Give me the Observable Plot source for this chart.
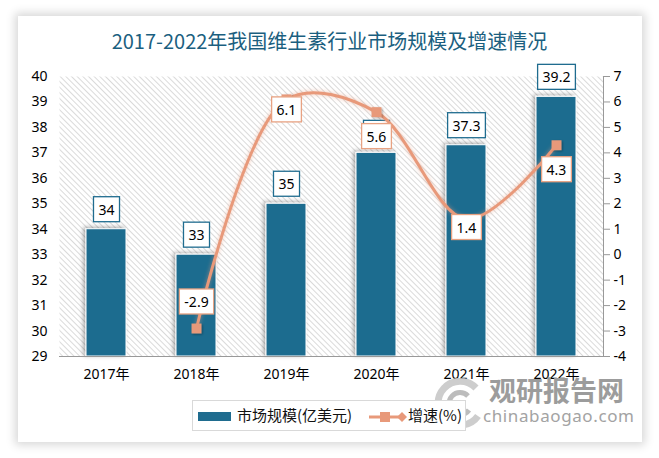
<!DOCTYPE html>
<html><head><meta charset="utf-8">
<script src="https://cdn.jsdelivr.net/npm/d3@7"></script>
<script src="https://cdn.jsdelivr.net/npm/@observablehq/plot@0.6"></script>
<style>
body{margin:0;background:#fff;width:659px;height:458px;overflow:hidden;position:relative;font-family:"Noto Sans","Noto Sans CJK SC",sans-serif;}
#card{position:absolute;left:18px;top:16px;width:624px;height:426px;background:#fff;box-shadow:0 0 9px 3px rgba(0,0,0,0.16);}
#title{position:absolute;left:0;width:659px;top:28px;text-align:center;font-size:20px;line-height:26px;color:#1b5f80;font-family:"Noto Sans CJK SC",sans-serif;}
#chart{position:absolute;left:0;top:0;}
#legend{position:absolute;left:192px;top:400px;width:274px;height:31px;border:1px solid #d9d9d9;box-sizing:border-box;background:#fff;font-size:15px;font-family:"Noto Sans CJK SC",sans-serif;color:#111;}
#legend .sw{position:absolute;left:5px;top:11px;width:33px;height:9px;background:#1f6c8f;}
#legend .t1{position:absolute;left:44px;top:4px;line-height:20px;}
#legend svg{position:absolute;left:175px;top:5px;}
#legend .t2{position:absolute;left:215px;top:4px;line-height:20px;}
#wm1{position:absolute;left:489px;top:373px;font-size:27px;font-weight:bold;color:#9c9c9c;font-family:"Noto Sans CJK SC",sans-serif;line-height:34px;}
#wm2{position:absolute;left:483px;top:405px;font-size:17px;color:#a3a3a3;letter-spacing:0.6px;font-family:"Noto Sans",sans-serif;line-height:22px;}
#logo{position:absolute;left:432px;top:378px;}
</style></head>
<body>
<div id="card"></div>
<div id="chart"></div>
<div id="title">2017-2022年我国维生素行业市场规模及增速情况</div>
<svg id="logo" width="56" height="52"><path d="M44 10 A22 22 0 1 0 46 38" fill="none" stroke="#c4c4c4" stroke-width="7" opacity="0.85"/><path d="M36 18 A11 11 0 1 0 37 32" fill="none" stroke="#b0b0b0" stroke-width="5" opacity="0.85"/></svg>
<div id="wm1">观研报告网</div>
<div id="wm2">chinabaogao.com</div>
<div id="legend"><div class="sw"></div><div class="t1">市场规模(亿美元)</div>
<svg width="40" height="20"><line x1="1" y1="11" x2="34" y2="11" stroke="#e8997a" stroke-width="3"/><rect x="12" y="6" width="10" height="10" fill="#e8997a"/><path d="M34 6 L39 11 L34 16 L29 11 Z" fill="#e8997a"/></svg>
<div class="t2">增速(%)</div></div>
<script>
const years = ["2017年","2018年","2019年","2020年","2021年","2022年"];
const marketSize = [34, 33, 35, 37, 37.3, 39.2];
const growthYears = ["2018年","2019年","2020年","2021年","2022年"];
const growth = [-2.9, 6.1, 5.6, 1.4, 4.3];
const leftTicks = [29,30,31,32,33,34,35,36,37,38,39,40];
const rightTicks = [-4,-3,-2,-1,0,1,2,3,4,5,6,7];

// layout constants (not data)
const SHIFT = 40 - 7; // right axis 7 aligns with left axis 40
const growthLabelDy = {"2018年": -26, "2019年": 11, "2020年": 25, "2021年": 9, "2022年": 25};
const BAR = "#1f6c8f", LINE = "#e8997a";

const sizeRows = years.map((y, i) => ({year: y, size: marketSize[i]}));
const growthRows = growthYears.map((y, i) => ({year: y, g: growth[i]}));

const chart = Plot.plot({
  width: 659, height: 458,
  marginLeft: 59, marginRight: 56, marginTop: 76, marginBottom: 102,
  x: {domain: years, paddingInner: 0.56, paddingOuter: 0.28, label: null},
  y: {domain: [29, 40], label: null},
  style: {fontFamily: "'Noto Sans','Noto Sans CJK SC',sans-serif", fontSize: "14px", color: "#000", background: "transparent", overflow: "visible"},
  marks: [
    Plot.frame({fill: "url(#hatch)", stroke: null}),
    Plot.axisY({anchor: "left", ticks: leftTicks, tickSize: 0, tickPadding: 12, fontSize: 14}),
    Plot.axisY({anchor: "right", ticks: rightTicks.map(v => v + SHIFT), tickFormat: d => String(d - SHIFT), tickSize: 6, tickPadding: 4, stroke: "#999", fontSize: 14}),
    Plot.axisX({anchor: "bottom", tickSize: 0, tickPadding: 13, fontSize: 14}),
    Plot.barY(sizeRows, {x: "year", y1: 29, y2: "size", fill: BAR, stroke: "#fff", strokeWidth: 1, className: "bars"}),
    Plot.frame({anchor: "bottom", stroke: "#999"}),
    Plot.frame({anchor: "right", stroke: "#999"}),
    Plot.text(sizeRows, {x: "year", y: "size", text: d => String(d.size), dy: -19, fontSize: 14, fill: "#000", className: "blabel"}),
    Plot.line(growthRows, {x: "year", y: d => d.g + SHIFT, curve: "catmull-rom", stroke: LINE, strokeWidth: 3, className: "gline"}),
    Plot.dot(growthRows, {x: "year", y: d => d.g + SHIFT, symbol: "square", r: 5.6, fill: LINE, stroke: null, className: "gdot"}),
    ...growthRows.map(d => Plot.text([d], {x: "year", y: dd => dd.g + SHIFT, text: dd => String(dd.g), dy: growthLabelDy[d.year], fontSize: 14, fill: "#000", className: "glabel"}))
  ]
});
document.getElementById("chart").appendChild(chart);

// defs: hatch pattern and shadows
const NS = "http://www.w3.org/2000/svg";
const defs = document.createElementNS(NS, "defs");
defs.innerHTML = `
<pattern id="hatch" patternUnits="userSpaceOnUse" width="4" height="4" patternTransform="rotate(-45)">
  <rect width="4" height="4" fill="#fff"/><line x1="0.5" y1="0" x2="0.5" y2="4" stroke="#dadada" stroke-width="1"/>
</pattern>
<filter id="barShadow" x="-30%" y="-10%" width="160%" height="120%">
  <feDropShadow dx="-2" dy="-1" stdDeviation="2.2" flood-color="#000" flood-opacity="0.35"/>
</filter>
<filter id="glow" x="-10%" y="-20%" width="120%" height="140%">
  <feDropShadow dx="0" dy="0" stdDeviation="2" flood-color="#e8997a" flood-opacity="0.6"/>
</filter>
<filter id="dotShadow" x="-50%" y="-50%" width="200%" height="200%">
  <feDropShadow dx="1" dy="1" stdDeviation="1.2" flood-color="#000" flood-opacity="0.35"/>
</filter>`;
chart.insertBefore(defs, chart.firstChild);
chart.querySelectorAll("g.bars rect").forEach(r => r.setAttribute("filter", "url(#barShadow)"));
chart.querySelectorAll("g.gline path").forEach(p => p.setAttribute("filter", "url(#glow)"));
chart.querySelectorAll("g.gdot path").forEach(p => p.setAttribute("filter", "url(#dotShadow)"));

function boxify(cls, stroke) {
  chart.querySelectorAll(`g.${cls} text`).forEach(t => {
    const b = t.getBBox();
    const r = document.createElementNS(NS, "rect");
    r.setAttribute("x", b.x - 5);
    r.setAttribute("y", b.y - 3);
    r.setAttribute("width", b.width + 10);
    r.setAttribute("height", b.height + 6);
    r.setAttribute("fill", "#fff");
    r.setAttribute("stroke", stroke);
    r.setAttribute("stroke-width", 1.3);
    if (t.getAttribute("transform")) r.setAttribute("transform", t.getAttribute("transform"));
    t.parentNode.insertBefore(r, t);
  });
}
boxify("blabel", BAR);
boxify("glabel", "#e8a282");
</script>
</body></html>
